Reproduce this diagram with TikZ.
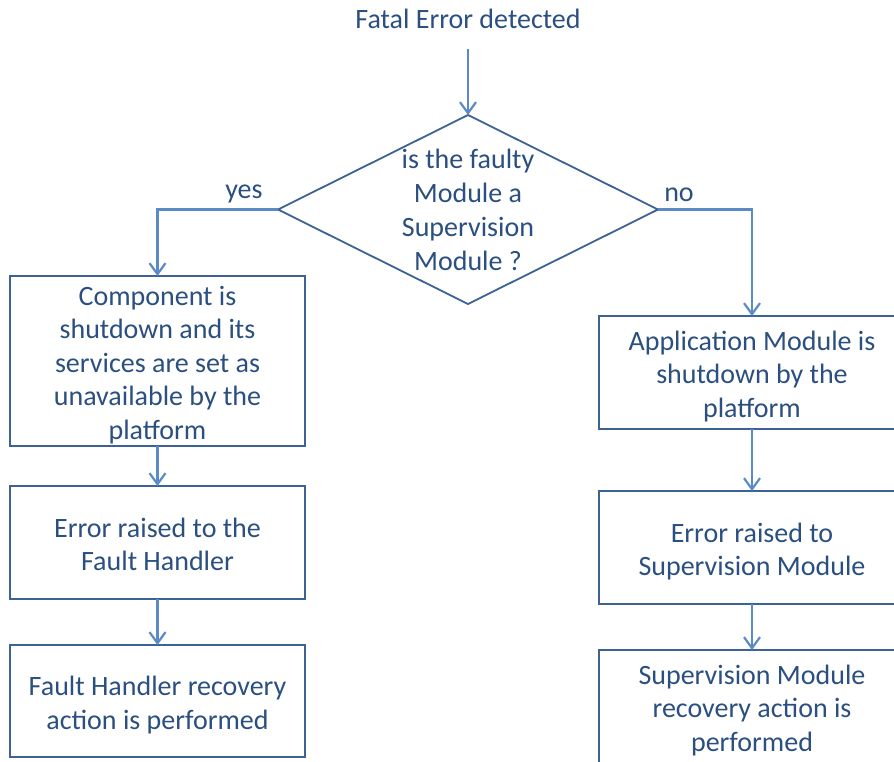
\documentclass[tikz,border=0pt]{standalone}
\usepackage{fontspec}
\setmainfont{Carlito}
\usetikzlibrary{shapes.geometric,arrows.meta}
\definecolor{txtblue}{HTML}{2A4F80}
\definecolor{boxblue}{HTML}{3C6394}
\definecolor{arrblue}{HTML}{5A8BC8}
% centred block of lines, each row the height of one text line;
% the block takes no room, so the box size comes from the style alone
\newcommand{\linesblock}[1]{\raisebox{-11pt}[0pt][0pt]{\begin{tabular}{@{}c@{}}#1\end{tabular}}}
\begin{document}
\begin{tikzpicture}[x=1pt,y=-1pt,
  font=\fontsize{28}{33.5}\selectfont,
  every node/.style={text=txtblue},
  procbox/.style={draw=boxblue,line width=1.8pt,rectangle,
    minimum width=295pt,inner sep=0pt,outer sep=0pt},
  decision/.style={draw=boxblue,line width=1.8pt,diamond,inner sep=0pt,outer sep=0pt,
    minimum width=380pt,minimum height=189pt},
  arr/.style={draw=arrblue,line width=2.2pt,-{Straight Barb[length=11pt,width=16pt,line width=2.2pt]}},
  lbl/.style={inner sep=0pt}]
  \useasboundingbox (0,0) rectangle (894,761);
  \clip (0,0) rectangle (894,761);
  \fill[white] (0,0) rectangle (894,761);

  % start text
  \node[lbl] (start) at (468,19) {Fatal Error detected};

  % decision
  \node[decision] (dia) at (468,209.5) {};
  \node[lbl,align=center,font=\fontsize{28}{34}\selectfont] (diatext) at (468,210)
    {is the faulty\\Module a\\Supervision\\Module ?};

  % left branch
  \node[procbox,minimum height=170pt] (b1) at (157.5,361)
    {\linesblock{Component is\\shutdown and its\\services are set as\\unavailable by the\\platform}};
  \node[procbox,minimum height=113pt] (b2) at (157.5,542.5)
    {\linesblock{Error raised to the\\Fault Handler}};
  \node[procbox,minimum height=112pt] (b3) at (157.5,701)
    {\linesblock{Fault Handler recovery\\action is performed}};

  % right branch
  \node[procbox,minimum width=306pt,minimum height=113pt] (b4) at (752,372.5)
    {\linesblock{Application Module is\\shutdown by the\\platform}};
  \node[procbox,minimum width=306pt,minimum height=113pt] (b5) at (752,547.5)
    {\linesblock{Error raised to\\Supervision Module}};
  \node[procbox,minimum width=306pt,minimum height=113pt] (b6) at (752,706.5)
    {\linesblock{Supervision Module\\recovery action is\\performed}};

  % branch labels
  \node[lbl] (yes) at (244,194) {yes};
  \node[lbl] (no) at (679,195) {no};

  % connectors
  \draw[arr] ([yshift=-20pt]start.south) -- (dia.north);
  \draw[arr] (dia.west) -| (b1.north);
  \draw[arr] (b1.south) -- (b2.north);
  \draw[arr] (b2.south) -- (b3.north);
  \draw[arr] (dia.east) -| (b4.north);
  \draw[arr] (b4.south) -- (b5.north);
  \draw[arr] (b5.south) -- (b6.north);
\end{tikzpicture}
\end{document}
